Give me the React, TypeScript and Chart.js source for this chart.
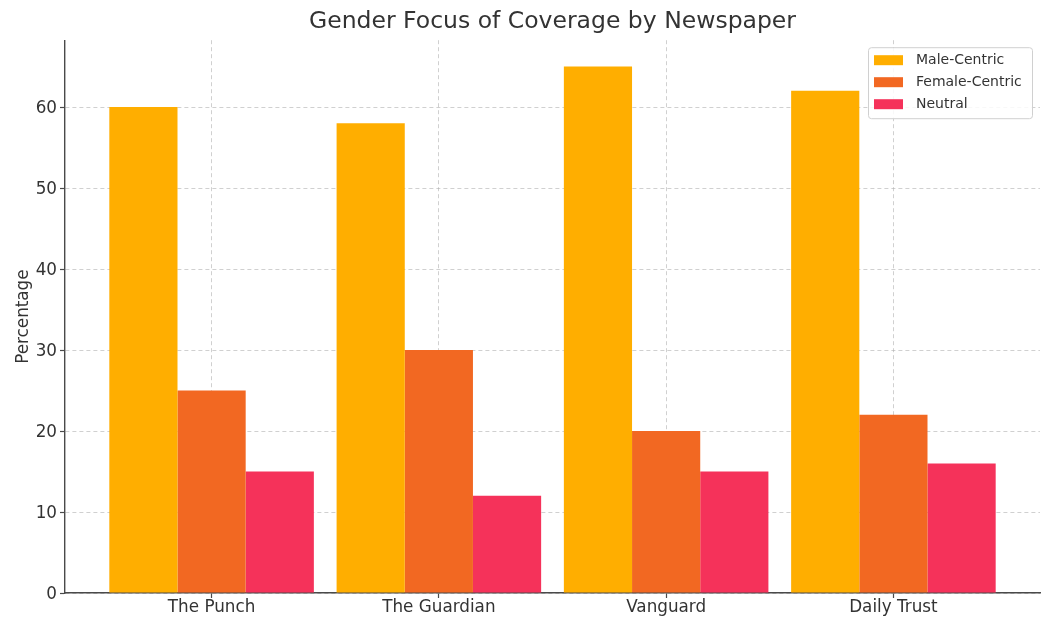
import { useEffect, useRef } from "react";
import { Chart, registerables } from "chart.js";

Chart.register(...registerables);

const categories = ["The Punch", "The Guardian", "Vanguard", "Daily Trust"];
const seriesLabels = ["Male-Centric", "Female-Centric", "Neutral"];
const maleCentric = [60, 58, 65, 62];
const femaleCentric = [25, 30, 20, 22];
const neutral = [15, 12, 15, 16];
const seriesColors = ["#FFAE00", "#F26822", "#F5325A"];

const FONT = "'DejaVu Sans', sans-serif";
const TEXT = "#333333";
const GRID = "rgba(176,176,176,0.6)";
const SPINE = "#4a4a4a";

const boxLegend = {
  id: "boxLegend",
  afterDraw(chart: any) {
    const { ctx, chartArea } = chart;
    const w = 164;
    const h = 71;
    const x = chartArea.right - 8 - w;
    const y = chartArea.top + 7;
    ctx.save();
    ctx.beginPath();
    if (ctx.roundRect) ctx.roundRect(x + 0.5, y + 0.5, w, h, 3);
    else ctx.rect(x + 0.5, y + 0.5, w, h);
    ctx.fillStyle = "rgba(255,255,255,0.85)";
    ctx.fill();
    ctx.strokeStyle = "#d0d0d0";
    ctx.lineWidth = 1;
    ctx.stroke();
    ctx.font = `14px ${FONT}`;
    ctx.textBaseline = "middle";
    ctx.textAlign = "left";
    chart.data.datasets.forEach((ds: any, i: number) => {
      const cy = y + 13 + i * 22;
      ctx.fillStyle = ds.backgroundColor;
      ctx.fillRect(x + 6, cy - 5, 29, 10);
      ctx.fillStyle = TEXT;
      ctx.fillText(ds.label, x + 48, cy);
    });
    ctx.restore();
  },
};

export default function App() {
  const ref = useRef<HTMLCanvasElement>(null);

  useEffect(() => {
    document.body.style.margin = "0";
    const canvas = ref.current;
    if (!canvas) return;
    const seriesData = [maleCentric, femaleCentric, neutral];
    const chart = new Chart(canvas, {
      type: "bar",
      data: {
        datasets: seriesData.map((vals, si) => ({
          label: seriesLabels[si],
          data: vals.map((v, i) => ({ x: i, y: v })),
          backgroundColor: seriesColors[si],
          borderWidth: 0,
          categoryPercentage: 0.9,
          barPercentage: 1.0,
        })),
      },
      options: {
        responsive: false,
        animation: false,
        layout: { padding: { left: 0, right: 2, top: 0, bottom: 0 } },
        plugins: {
          legend: { display: false },
          tooltip: { enabled: false },
          title: {
            display: true,
            text: "Gender Focus of Coverage by Newspaper",
            fullSize: false,
            color: TEXT,
            font: { family: FONT, size: 23.5, weight: "normal" },
            padding: { top: 8, bottom: 4 },
          },
        },
        scales: {
          x: {
            type: "linear",
            min: -0.645,
            max: 3.645,
            offset: false,
            z: 1,
            afterBuildTicks: (s: any) => {
              s.ticks = categories.map((_, i) => ({ value: i }));
            },
            afterFit: (s: any) => {
              s.height = 24;
            },
            ticks: {
              autoSkip: false,
              maxRotation: 0,
              includeBounds: false,
              padding: 0,
              color: TEXT,
              font: { family: FONT, size: 16.8 },
              callback: (v: any) => categories[v] ?? "",
            },
            grid: {
              offset: false,
              color: GRID,
              lineWidth: 1,
              borderDash: [4, 3],
              tickLength: 5,
              tickColor: SPINE,
              tickBorderDash: [],
              tickWidth: 1.2,
            } as any,
            border: { color: SPINE, width: 1.4, dash: [4, 3] },
          },
          y: {
            min: 0,
            max: 68.25,
            z: 1,
            afterFit: (s: any) => {
              s.width = 65;
            },
            ticks: {
              stepSize: 10,
              includeBounds: false,
              padding: 3,
              labelOffset: 1.5,
              color: TEXT,
              font: { family: FONT, size: 16.8 },
            },
            title: {
              display: true,
              text: "Percentage",
              color: TEXT,
              font: { family: FONT, size: 16.8 },
              padding: { top: 14, bottom: 0 },
            },
            grid: {
              color: GRID,
              lineWidth: 1,
              borderDash: [4, 3],
              tickLength: 5,
              tickColor: SPINE,
              tickBorderDash: [],
              tickWidth: 1.2,
            } as any,
            border: { color: SPINE, width: 1.4, dash: [4, 3] },
          },
        },
      } as any,
      plugins: [boxLegend],
    });
    return () => chart.destroy();
  }, []);

  return (
    <div style={{ width: 1042, height: 617 }}>
      <canvas ref={ref} width={1042} height={617} style={{ display: "block" }} />
    </div>
  );
}
